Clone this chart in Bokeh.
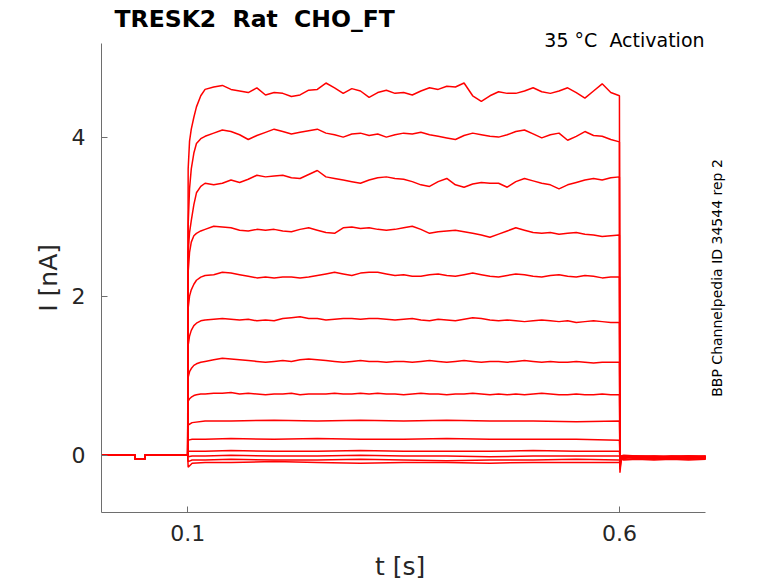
"""TRESK2 activation current traces, redrawn in Bokeh"""
from math import pi

from bokeh.embed import file_html
from bokeh.models import Label, Range1d
from bokeh.plotting import figure
from bokeh.resources import INLINE

# non-breaking spaces keep the double gaps in the SVG text
NBSP = "\u00a0"
TITLE = "TRESK2\u00a0 Rat\u00a0 CHO_FT"
CONDITION = "35 \u00b0C\u00a0 Activation"
SOURCE = "BBP Channelpedia ID 34544 rep 2"
X_LABEL = "t [s]"
Y_LABEL = "I [nA]"
X_TICKS = [0.1, 0.6]
Y_TICKS = [0, 2, 4]

# Holding period before the step (shared by all sweeps), in s and nA
T_PRE = [0.0, 0.039, 0.0392, 0.050, 0.0502, 0.0998]
I_PRE = [0.0, 0.0, -0.05, -0.05, 0.0, 0.0]

# Step period, sampled more finely for the large sweeps
T_ON = [0.1004, 0.102, 0.104, 0.107, 0.11, 0.115, 0.12,
        0.13, 0.14, 0.15, 0.16, 0.17, 0.18, 0.19, 0.20, 0.21, 0.22,
        0.23, 0.24, 0.25, 0.26, 0.27, 0.28, 0.29, 0.30, 0.31, 0.32,
        0.33, 0.34, 0.35, 0.36, 0.37, 0.38, 0.39, 0.40, 0.41, 0.42,
        0.43, 0.44, 0.45, 0.46, 0.47, 0.48, 0.49, 0.50, 0.51, 0.52,
        0.53, 0.54, 0.55, 0.56, 0.57, 0.58, 0.59, 0.60]
T_ON_SMALL = [0.1004, 0.105, 0.12, 0.15, 0.2, 0.25, 0.3, 0.35, 0.4, 0.45, 0.5, 0.55, 0.6]

# After the step
T_OFF = [0.6006, 0.602, 0.605, 0.62, 0.64, 0.66, 0.68, 0.7]

i_on_01 = [3.6, 3.95, 4.1, 4.25, 4.38, 4.52, 4.6,
           4.63, 4.65, 4.60, 4.58, 4.56, 4.62, 4.53, 4.56, 4.55, 4.51,
           4.53, 4.59, 4.60, 4.68, 4.62, 4.55, 4.61, 4.58, 4.50, 4.56,
           4.59, 4.55, 4.56, 4.53, 4.58, 4.62, 4.60, 4.64, 4.63, 4.68,
           4.52, 4.45, 4.52, 4.57, 4.55, 4.55, 4.58, 4.62, 4.57, 4.55,
           4.58, 4.62, 4.56, 4.49, 4.58, 4.67, 4.56, 4.52]
i_on_02 = [2.9, 3.35, 3.6, 3.8, 3.92, 3.98, 4.01,
           4.05, 4.09, 4.07, 4.03, 3.97, 4.02, 4.06, 4.10, 4.07, 4.04,
           4.06, 4.08, 4.10, 4.05, 4.03, 4.00, 4.04, 4.05, 4.02, 4.04,
           4.00, 4.03, 4.05, 4.04, 4.06, 4.03, 4.01, 3.99, 3.97, 4.02,
           4.05, 4.03, 4.01, 4.00, 4.03, 4.07, 4.09, 4.04, 3.99, 4.03,
           4.05, 3.96, 4.01, 4.07, 4.02, 4.01, 3.97, 3.94]
i_on_03 = [2.55, 2.8, 2.95, 3.15, 3.3, 3.38, 3.42,
           3.40, 3.42, 3.46, 3.43, 3.47, 3.52, 3.50, 3.51, 3.52, 3.49,
           3.48, 3.53, 3.58, 3.50, 3.48, 3.46, 3.44, 3.42, 3.46, 3.49,
           3.50, 3.48, 3.47, 3.44, 3.40, 3.38, 3.44, 3.48, 3.40, 3.37,
           3.41, 3.43, 3.42, 3.42, 3.37, 3.44, 3.48, 3.45, 3.42, 3.40,
           3.35, 3.40, 3.43, 3.46, 3.48, 3.46, 3.49, 3.50]
i_on_04 = [2.3, 2.55, 2.68, 2.76, 2.79, 2.82, 2.84,
           2.88, 2.87, 2.86, 2.83, 2.82, 2.84, 2.83, 2.84, 2.82, 2.81,
           2.84, 2.86, 2.83, 2.80, 2.79, 2.86, 2.87, 2.85, 2.86, 2.84,
           2.83, 2.84, 2.86, 2.88, 2.84, 2.79, 2.81, 2.82, 2.83, 2.81,
           2.79, 2.77, 2.74, 2.78, 2.82, 2.86, 2.83, 2.80, 2.79, 2.80,
           2.78, 2.79, 2.80, 2.78, 2.77, 2.75, 2.76, 2.77]
i_on_05 = [1.85, 2.0, 2.08, 2.15, 2.2, 2.24, 2.26,
           2.27, 2.30, 2.29, 2.27, 2.25, 2.23, 2.24, 2.23, 2.24, 2.24,
           2.23, 2.24, 2.26, 2.28, 2.30, 2.28, 2.26, 2.29, 2.30, 2.30,
           2.28, 2.26, 2.27, 2.25, 2.25, 2.27, 2.28, 2.26, 2.25, 2.27,
           2.29, 2.27, 2.25, 2.24, 2.26, 2.28, 2.27, 2.25, 2.24, 2.26,
           2.27, 2.25, 2.24, 2.26, 2.25, 2.23, 2.24, 2.24]
i_on_06 = [1.38, 1.5, 1.57, 1.63, 1.66, 1.69, 1.70,
           1.71, 1.72, 1.71, 1.70, 1.71, 1.69, 1.70, 1.69, 1.72, 1.73,
           1.74, 1.72, 1.72, 1.70, 1.71, 1.72, 1.72, 1.71, 1.72, 1.72,
           1.71, 1.70, 1.71, 1.72, 1.70, 1.69, 1.71, 1.70, 1.69, 1.71,
           1.73, 1.72, 1.70, 1.69, 1.70, 1.69, 1.68, 1.69, 1.70, 1.69,
           1.68, 1.69, 1.67, 1.68, 1.69, 1.68, 1.67, 1.67]
i_on_07 = [0.98, 1.05, 1.09, 1.13, 1.15, 1.17, 1.18,
           1.20, 1.22, 1.21, 1.20, 1.19, 1.18, 1.17, 1.18, 1.19, 1.18,
           1.20, 1.21, 1.20, 1.19, 1.18, 1.17, 1.18, 1.19, 1.18, 1.18,
           1.17, 1.18, 1.18, 1.17, 1.18, 1.19, 1.18, 1.17, 1.18, 1.19,
           1.18, 1.17, 1.18, 1.18, 1.17, 1.18, 1.19, 1.18, 1.17, 1.18,
           1.17, 1.17, 1.18, 1.17, 1.16, 1.17, 1.17, 1.17]
i_on_08 = [0.68, 0.71, 0.73, 0.75, 0.76, 0.77, 0.77,
           0.78, 0.78, 0.79, 0.77, 0.78, 0.77, 0.76, 0.77, 0.77, 0.78,
           0.76, 0.77, 0.77, 0.77, 0.78, 0.77, 0.77, 0.78, 0.77, 0.78,
           0.77, 0.77, 0.76, 0.77, 0.78, 0.77, 0.77, 0.76, 0.77, 0.77,
           0.78, 0.77, 0.76, 0.77, 0.76, 0.77, 0.76, 0.77, 0.78, 0.77,
           0.76, 0.76, 0.77, 0.76, 0.76, 0.77, 0.76, 0.76]
i_on_09 = [0.38, 0.41, 0.43, 0.43, 0.44, 0.43, 0.44, 0.43, 0.44, 0.43, 0.43, 0.42, 0.43]
i_on_10 = [0.19, 0.20, 0.20, 0.21, 0.20, 0.21, 0.20, 0.20, 0.21, 0.20, 0.20, 0.20, 0.19]
i_on_11 = [0.05, 0.05, 0.05, 0.06, 0.05, 0.05, 0.06, 0.05, 0.05, 0.05, 0.06, 0.05, 0.05]
i_on_12 = [-0.02, -0.01, -0.01, 0.0, -0.01, -0.01, 0.0, -0.01, -0.01, -0.02, -0.01, -0.01, -0.01]
i_on_13 = [-0.08, -0.06, -0.06, -0.05, -0.06, -0.06, -0.05, -0.06, -0.07, -0.06, -0.06, -0.05, -0.06]
i_on_14 = [-0.15, -0.1, -0.09, -0.09, -0.08, -0.09, -0.1, -0.09, -0.09, -0.1, -0.09, -0.09, -0.09]

i_off_01 = [-0.22, -0.06, -0.03, -0.02, -0.04, -0.03, -0.02, -0.03]
i_off_02 = [-0.18, -0.05, -0.02, -0.03, -0.02, -0.04, -0.03, -0.02]
i_off_03 = [-0.15, -0.04, -0.03, -0.02, -0.03, -0.02, -0.04, -0.03]
i_off_04 = [-0.12, -0.04, -0.02, -0.03, -0.02, -0.03, -0.02, -0.04]
i_off_05 = [-0.10, -0.03, -0.04, -0.02, -0.03, -0.04, -0.03, -0.02]
i_off_06 = [-0.08, -0.03, -0.02, -0.03, -0.04, -0.02, -0.03, -0.03]
i_off_07 = [-0.07, -0.02, -0.03, -0.01, -0.02, -0.03, -0.02, -0.03]
i_off_08 = [-0.06, -0.02, -0.01, -0.02, -0.03, -0.01, -0.02, -0.02]
i_off_09 = [-0.05, -0.02, -0.02, -0.01, -0.02, -0.03, -0.01, -0.02]
i_off_10 = [-0.04, -0.01, -0.02, -0.02, -0.01, -0.02, -0.03, -0.01]
i_off_11 = [-0.03, -0.01, 0.0, -0.01, -0.02, -0.01, -0.01, -0.02]
i_off_12 = [-0.03, -0.02, -0.01, -0.02, -0.01, -0.02, -0.01, -0.01]
i_off_13 = [-0.05, -0.04, -0.05, -0.04, -0.05, -0.04, -0.05, -0.04]
i_off_14 = [-0.06, -0.05, -0.06, -0.05, -0.06, -0.05, -0.06, -0.05]

sweeps = [
    (T_ON, i_on_01, i_off_01), (T_ON, i_on_02, i_off_02), (T_ON, i_on_03, i_off_03),
    (T_ON, i_on_04, i_off_04), (T_ON, i_on_05, i_off_05), (T_ON, i_on_06, i_off_06),
    (T_ON, i_on_07, i_off_07), (T_ON, i_on_08, i_off_08),
    (T_ON_SMALL, i_on_09, i_off_09), (T_ON_SMALL, i_on_10, i_off_10),
    (T_ON_SMALL, i_on_11, i_off_11), (T_ON_SMALL, i_on_12, i_off_12),
    (T_ON_SMALL, i_on_13, i_off_13), (T_ON_SMALL, i_on_14, i_off_14),
]

FONT = "DejaVu Sans"
INK = "#262626"
AXIS_GREY = "#6e6e6e"

# The frame runs up to the top and out to the right edge so the notes can sit
# in data space; the axis bounds keep the spines to the real data window.
X_SPAN = (0, 0.7)
Y_SPAN = (-0.72, 5.18)
p = figure(width=778, height=583, output_backend="svg", toolbar_location=None, tools="",
           x_range=Range1d(0, 0.775), y_range=Range1d(-0.72, 5.68), title=None,
           min_border_left=101, min_border_right=8, min_border_top=3, min_border_bottom=70,
           outline_line_color=None, background_fill_color="white", border_fill_color="white")
p.grid.visible = False

xs = [T_PRE + t_on + T_OFF for t_on, _, _ in sweeps]
ys = [I_PRE + i_on + i_off for _, i_on, i_off in sweeps]
p.multi_line(xs=xs, ys=ys, line_color="red", line_width=1.5)

for ax in (p.xaxis, p.yaxis):
    ax.axis_line_color = AXIS_GREY
    ax.major_tick_line_color = AXIS_GREY
    ax.major_tick_in = 6
    ax.major_tick_out = 0
    ax.minor_tick_line_color = None
    ax.major_label_text_font = FONT
    ax.major_label_text_font_size = "22px"
    ax.major_label_text_color = INK
    ax.axis_label_text_font = FONT
    ax.axis_label_text_font_size = "25px"
    ax.axis_label_text_font_style = "normal"
    ax.axis_label_text_color = INK
p.xaxis.bounds = X_SPAN
p.yaxis.bounds = Y_SPAN
p.xaxis.ticker = X_TICKS
p.yaxis.ticker = Y_TICKS
p.xaxis.major_label_standoff = 12
p.yaxis.major_label_standoff = 16
# axis labels are centred on the whole frame, so trailing blanks pull the
# visible text back to the middle of the data window
p.xaxis.axis_label = X_LABEL + NBSP * 9
p.yaxis.axis_label = Y_LABEL + NBSP * 5
p.xaxis.axis_label_standoff = 8
p.yaxis.axis_label_standoff = 6

p.add_layout(Label(x=0.0151, y=5.483, text=TITLE, text_font=FONT, text_font_size="23.5px",
                   text_font_style="bold", text_color="black", text_baseline="alphabetic"))
p.add_layout(Label(x=0.6986, y=5.216, text=CONDITION, text_font=FONT, text_font_size="19px",
                   text_color="black", text_align="right", text_baseline="alphabetic"))
p.add_layout(Label(x=0.7125, y=2.229, text=SOURCE, text_font=FONT, text_font_size="14px",
                   text_color="black", angle=pi / 2, text_align="center", text_baseline="middle"))

open("out.html", "w").write(file_html(p, INLINE))
